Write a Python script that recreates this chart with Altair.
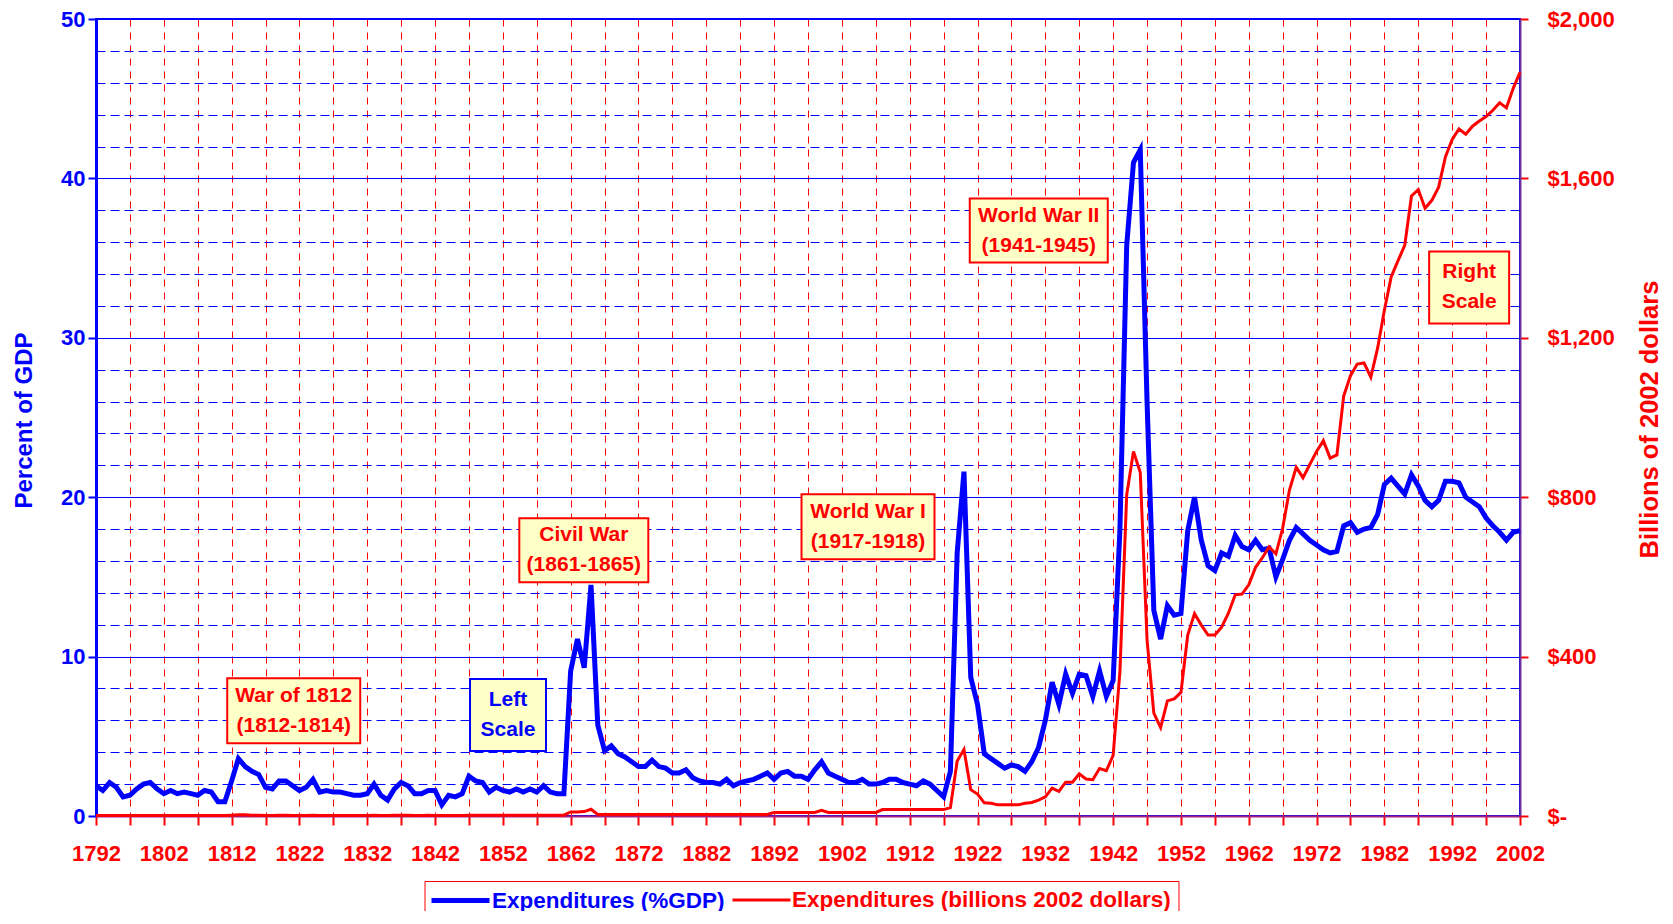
import altair as alt
import pandas as pd

# ---------------- data ----------------
years = list(range(1792, 2003))

gdp_pct = [
    1.9, 1.6, 2.1, 1.8, 1.2, 1.3, 1.7, 2.0, 2.1, 1.7,      # 1792-1801
    1.4, 1.6, 1.4, 1.5, 1.4, 1.3, 1.6, 1.5, 0.9, 0.9,      # 1802-1811
    2.2, 3.6, 3.1, 2.8, 2.6, 1.8, 1.7, 2.2, 2.2, 1.9,      # 1812-1821
    1.6, 1.8, 2.3, 1.5, 1.6, 1.5, 1.5, 1.4, 1.3, 1.3,      # 1822-1831
    1.4, 2.0, 1.3, 1.0, 1.7, 2.1, 1.9, 1.4, 1.4, 1.6,      # 1832-1841
    1.6, 0.7, 1.3, 1.2, 1.4, 2.5, 2.2, 2.1, 1.5, 1.8,      # 1842-1851
    1.6, 1.5, 1.7, 1.5, 1.7, 1.5, 1.9, 1.5, 1.4, 1.4,      # 1852-1861
    9.1, 11.1, 9.3, 14.5, 5.7, 4.1, 4.4, 3.9, 3.7, 3.4,    # 1862-1871
    3.1, 3.1, 3.5, 3.1, 3.0, 2.7, 2.7, 2.9, 2.4, 2.2,      # 1872-1881
    2.1, 2.1, 2.0, 2.3, 1.9, 2.1, 2.2, 2.3, 2.5, 2.7,      # 1882-1891
    2.3, 2.7, 2.8, 2.5, 2.5, 2.3, 2.9, 3.4, 2.7, 2.5,      # 1892-1901
    2.3, 2.1, 2.1, 2.3, 2.0, 2.0, 2.1, 2.3, 2.3, 2.1,      # 1902-1911
    2.0, 1.9, 2.2, 2.0, 1.6, 1.2, 2.8, 16.5, 21.6, 8.7,    # 1912-1921
    7.0, 3.9, 3.6, 3.3, 3.0, 3.2, 3.1, 2.8, 3.4, 4.3,      # 1922-1931
    6.0, 8.4, 7.0, 8.9, 7.7, 8.9, 8.8, 7.5, 9.1, 7.5,      # 1932-1941
    8.5, 18.0, 35.8, 41.0, 41.8, 26.0, 12.9, 11.1, 13.2, 12.6,  # 1942-1951
    12.7, 17.9, 20.0, 17.3, 15.7, 15.4, 16.5, 16.3, 17.6, 16.9,  # 1952-1961
    16.7, 17.3, 16.7, 16.8, 15.0, 16.1, 17.3, 18.1, 17.7, 17.3,  # 1962-1971
    17.0, 16.7, 16.5, 16.6, 18.2, 18.4, 17.8, 18.0, 18.1, 18.9,  # 1972-1981
    20.8, 21.2, 20.7, 20.2, 21.4, 20.7, 19.8, 19.4, 19.8, 21.0,  # 1982-1991
    21.0, 20.9, 20.0, 19.7, 19.4, 18.7, 18.2, 17.8, 17.3, 17.8,  # 1992-2001
    17.9,                                                        # 2002
]

billions_2002 = [
    1, 1, 1, 1, 1, 1, 1, 1, 1, 1,                 # 1792-1801
    1, 1, 1, 1, 1, 1, 1, 1, 1, 1,                 # 1802-1811
    2, 3, 3, 2, 2, 1, 1, 2, 2, 1,                 # 1812-1821
    1, 1, 2, 1, 1, 1, 1, 1, 1, 1,                 # 1822-1831
    1, 2, 1, 1, 2, 2, 2, 1, 1, 2,                 # 1832-1841
    1, 1, 1, 1, 1, 2, 2, 2, 2, 2,                 # 1842-1851
    2, 2, 2, 2, 2, 2, 2, 2, 2, 2,                 # 1852-1861
    10, 10, 11, 17, 4, 4, 4, 4, 4, 4,             # 1862-1871
    4, 4, 4, 4, 4, 4, 4, 4, 4, 4,                 # 1872-1881
    4, 4, 4, 4, 4, 4, 4, 4, 4, 4,                 # 1882-1891
    9, 9, 9, 9, 9, 9, 9, 14, 9, 9,                # 1892-1901
    9, 9, 9, 9, 9, 9, 16, 16, 16, 16,             # 1902-1911
    16, 16, 16, 16, 16, 16, 21, 138, 167, 66,     # 1912-1921
    55, 33, 32, 28, 28, 28, 28, 32, 34, 40,       # 1922-1931
    48, 70, 62, 85, 85, 106, 93, 91, 119, 114,    # 1932-1941
    152, 362, 806, 915, 862, 442, 258, 222, 289, 294,      # 1942-1951
    310, 454, 508, 479, 454, 454, 474, 509, 555, 557,      # 1952-1961
    580, 624, 648, 675, 658, 722, 818, 875, 849, 882,      # 1962-1971
    915, 942, 898, 906, 1054, 1105, 1134, 1137, 1101, 1174,  # 1972-1981
    1269, 1353, 1393, 1432, 1556, 1572, 1525, 1545, 1578, 1654,  # 1982-1991
    1698, 1724, 1711, 1731, 1744, 1755, 1771, 1790, 1777, 1826,  # 1992-2001
    1866,                                                        # 2002
]

series_names = ["Expenditures (%GDP)", "Expenditures (billions 2002 dollars)"]

x_ticks = list(range(1792, 2003, 5))
left_ticks = list(range(0, 51, 2))
right_ticks = [0, 400, 800, 1200, 1600, 2000]

note_text = [
    "War of 1812\n(1812-1814)",
    "Left\nScale",
    "Civil War\n(1861-1865)",
    "World War I\n(1917-1918)",
    "World War II\n(1941-1945)",
    "Right\nScale",
]
note_year = [1821.16, 1852.76, 1863.94, 1905.85, 1931.03, 1994.5]
note_pct = [6.60, 6.34, 16.67, 18.15, 36.73, 33.16]

assert len(gdp_pct) == len(years) == len(billions_2002)

# ---------------- styling ----------------
FONT = "Liberation Sans"
BLUE = "#0000FF"
RED = "#FF0000"

box_paths = [
    "M-66.5,-32.5H66.5V32.5H-66.5Z",
    "M-38,-36H38V36H-38Z",
    "M-64.5,-32H64.5V32H-64.5Z",
    "M-66.5,-32.5H66.5V32.5H-66.5Z",
    "M-69,-32H69V32H-69Z",
    "M-40,-36H40V36H-40Z",
]

df = pd.DataFrame({"year": years, "pct": gdp_pct, "usd": billions_2002})
notes_df = pd.DataFrame({"note": note_text, "year": note_year, "pct": note_pct})

x_scale = alt.Scale(domain=[1792, 2002], nice=False, zero=False)
left_scale = alt.Scale(domain=[0, 50], nice=False, zero=True)
right_scale = alt.Scale(domain=[0, 2000], nice=False, zero=True)

major = "datum.value % 10 === 0"

x_axis = alt.Axis(
    values=x_ticks, format="d",
    labelExpr="(datum.value - 1792) % 10 === 0 ? datum.label : ''",
    title=None, grid=True, gridColor=RED, gridDash=[7, 6], gridWidth=1,
    domainColor="#A02080", domainWidth=2,
    tickColor=RED, tickSize=9, tickWidth=2,
    labelColor=RED, labelFont=FONT, labelFontSize=22, labelFontWeight="bold",
    labelPadding=18, labelFlush=False, labelOverlap=False,
)

left_axis = alt.Axis(
    values=left_ticks, labelExpr=f"{major} ? datum.label : ''",
    title="Percent of GDP", titleColor=BLUE, titleFont=FONT, titleFontSize=24,
    titleFontWeight="bold", titleAngle=270, titleX=-72, titleY=401,
    titleAlign="center", titleBaseline="middle",
    grid=True, gridColor=BLUE, gridWidth=1,
    gridDash={"condition": {"test": major, "value": []}, "value": [9, 5]},
    tickOpacity={"condition": {"test": major, "value": 1}, "value": 0},
    tickColor=BLUE, tickSize=8, tickWidth=2,
    labelColor=BLUE, labelFont=FONT, labelFontSize=22, labelFontWeight="bold",
    labelPadding=3, labelOverlap=False,
    domainColor=BLUE, domainWidth=3,
)

right_axis = alt.Axis(
    orient="right", values=right_ticks,
    labelExpr="datum.value === 0 ? '$-' : '$' + format(datum.value, ',')",
    title="Billions of 2002 dollars", titleColor=RED, titleFont=FONT,
    titleFontSize=25.5, titleFontWeight="bold", titleAngle=270,
    titleX=129, titleY=400, titleAlign="center", titleBaseline="middle",
    grid=False, tickColor=RED, tickSize=8, tickWidth=2,
    labelColor=RED, labelFont=FONT, labelFontSize=22, labelFontWeight="bold",
    labelPadding=19, labelAlign="left", labelOverlap=False,
    domainColor="#7030A0", domainWidth=2,
)

legend = alt.Legend(
    title=None, orient="none", legendX=328.5, legendY=862,
    direction="horizontal", symbolType="M-2.9,0H2.9", symbolSize=400,
    symbolOffset=16.5, labelOffset=19,
    labelFont=FONT, labelFontSize=22.5, labelFontWeight="bold",
    labelColor=alt.ExprRef(
        expr=f"datum.label === '{series_names[0]}' ? '{BLUE}' : '{RED}'"),
    labelLimit=700, columnPadding=1, padding=7,
    strokeColor=RED, fillColor="#FFFFFF",
)

color_enc = alt.Color("series:N",
                      scale=alt.Scale(domain=series_names, range=[BLUE, RED]),
                      legend=legend)
width_enc = alt.StrokeWidth("series:N",
                            scale=alt.Scale(type="point", domain=series_names,
                                            range=[5, 3], padding=0),
                            legend=legend)

x_enc = alt.X("year:Q", scale=x_scale, axis=x_axis)

blue = alt.Chart(df).transform_calculate(
    series=f"'{series_names[0]}'"
).mark_line().encode(
    x=x_enc,
    y=alt.Y("pct:Q", scale=left_scale, axis=left_axis),
    color=color_enc, strokeWidth=width_enc,
)

red = alt.Chart(df).transform_calculate(
    series=f"'{series_names[1]}'"
).mark_line().encode(
    x=x_enc,
    y=alt.Y("usd:Q", scale=right_scale, axis=right_axis),
    color=color_enc, strokeWidth=width_enc,
)

is_left = alt.FieldOneOfPredicate(field="note", oneOf=["Left\nScale"])

boxes = alt.Chart(notes_df).mark_point(
    filled=True, fill="#FFFFC8", opacity=1, fillOpacity=1, strokeWidth=2, size=4
).encode(
    x=x_enc,
    y=alt.Y("pct:Q", scale=left_scale, axis=None),
    shape=alt.Shape("note:N", scale=alt.Scale(domain=note_text, range=box_paths),
                    legend=None),
    stroke=alt.when(is_left).then(alt.value(BLUE)).otherwise(alt.value(RED)),
)

texts = alt.Chart(notes_df).mark_text(
    lineBreak="\n", lineHeight=30, font=FONT, fontSize=21, fontWeight="bold",
    align="center", baseline="middle", dy=-15
).encode(
    x=x_enc,
    y=alt.Y("pct:Q", scale=left_scale, axis=None),
    text="note:N",
    color=alt.when(is_left).then(alt.value(BLUE)).otherwise(alt.value(RED)),
)

chart = alt.layer(blue, red, boxes, texts).resolve_scale(
    y="independent"
).properties(
    width=1424, height=797,
    padding={"left": 88, "top": 11, "right": 143, "bottom": 95},
    autosize=alt.AutoSizeParams(type="none"),
).configure(font=FONT).configure_view(stroke=BLUE, strokeWidth=2)

chart.save("out.html", embed_options={"renderer": "svg", "actions": False})
